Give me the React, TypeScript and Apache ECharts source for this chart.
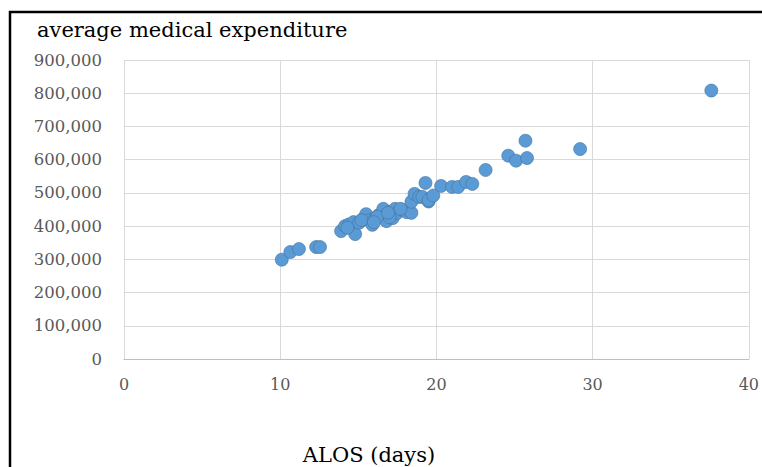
import React, { useEffect, useRef } from "react";
import * as echarts from "echarts";

const titleText = "average medical expenditure";
const xAxisName = "ALOS (days)";

const alos: number[] = [
  10.1, 10.65, 11.2, 12.3, 12.55,
  13.9, 14.15, 14.4, 14.8, 14.7, 15.05, 15.3, 15.5, 15.7, 15.9, 16.1, 16.3, 16.6, 16.7, 16.8,
  17.0, 17.2, 17.35, 17.5, 17.8, 18.1, 18.4, 18.4, 18.6, 18.9, 19.1, 19.3, 19.5, 19.5, 19.8,
  20.3, 21.0, 21.4, 21.9, 22.3, 23.15, 24.6, 25.1, 25.7, 25.8, 29.2, 37.6, 17.0, 17.7, 16.2,
  14.3, 15.2, 16.0, 16.9,
];
const expenditure: number[] = [
  299000, 322000, 331000, 337000, 337000,
  385000, 400000, 405000, 376000, 412000, 410000, 421000, 436000, 418000, 404000, 424000, 433000, 452000, 430000, 415000,
  442000, 424000, 452000, 440000, 449000, 442000, 440000, 473000, 497000, 488000, 488000, 530000, 474000, 479000, 492000,
  521000, 518000, 518000, 533000, 527000, 569000, 612000, 597000, 657000, 605000, 632000, 808000, 427000, 452000, 428000,
  395000, 418000, 412000, 440000,
];

const FONT = "DejaVu Serif";

export default function App() {
  const ref = useRef<HTMLDivElement>(null);
  useEffect(() => {
    document.body.style.margin = "0";
    const chart = echarts.init(ref.current!, null, { renderer: "svg" });
    const data = alos.map((x, i) => [x, expenditure[i]]);
    chart.setOption({
      animation: false,
      backgroundColor: "#ffffff",
      grid: { left: 124, right: 11, top: 60, bottom: 108, containLabel: false },
      xAxis: {
        type: "value",
        min: 0,
        max: 40,
        interval: 10,
        axisLine: { show: true, lineStyle: { color: "#bfbfbf", width: 1 } },
        axisTick: { show: false },
        splitLine: { show: true, lineStyle: { color: "#d9d9d9", width: 1 } },
        axisLabel: { color: "#595959", fontFamily: FONT, fontSize: 16, margin: 17 },
      },
      yAxis: {
        type: "value",
        min: 0,
        max: 900000,
        interval: 100000,
        axisLine: { show: false },
        axisTick: { show: false },
        splitLine: { show: true, lineStyle: { color: "#d9d9d9", width: 1 } },
        axisLabel: {
          color: "#595959",
          fontFamily: FONT,
          fontSize: 16.5,
          margin: 22,
          formatter: (v: number) => v.toLocaleString("en-US"),
        },
      },
      series: [
        {
          type: "scatter",
          data,
          symbol: "circle",
          symbolSize: 13,
          itemStyle: { color: "#5b9bd5", borderColor: "#41719c", borderWidth: 0.6, opacity: 1 },
        },
      ],
      graphic: [
        {
          type: "rect",
          shape: { x: 10, y: 12, width: 800, height: 500 },
          style: { fill: "none", stroke: "#000000", lineWidth: 2.5 },
          silent: true,
        },
        {
          type: "text",
          x: 37,
          y: 30,
          style: {
            text: titleText,
            fontFamily: FONT,
            fontSize: 21,
            fill: "#000000",
            verticalAlign: "middle",
          },
        },
        {
          type: "text",
          x: 369,
          y: 455,
          style: {
            text: xAxisName,
            fontFamily: FONT,
            fontSize: 21,
            fill: "#000000",
            align: "center",
            verticalAlign: "middle",
          },
        },
      ],
    });
    return () => chart.dispose();
  }, []);
  return <div ref={ref} style={{ width: 762, height: 467 }} />;
}
